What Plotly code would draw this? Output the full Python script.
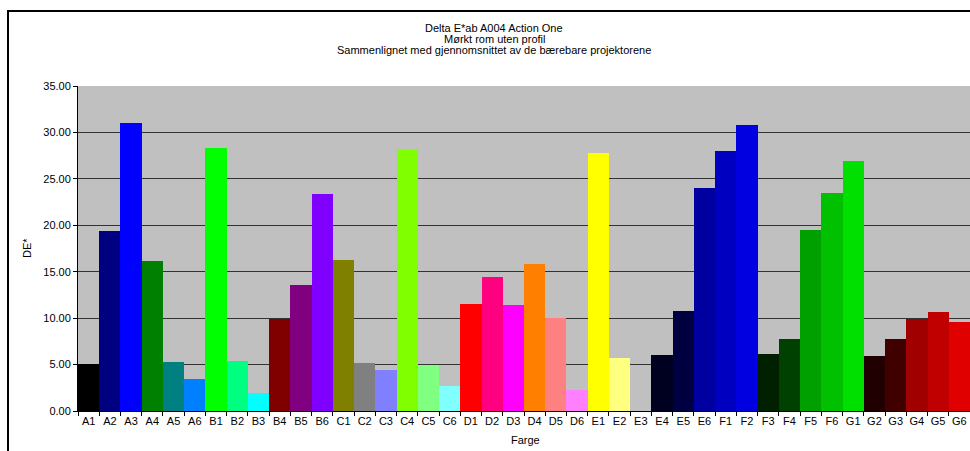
import plotly.graph_objects as go

# Colour patches on the test chart
categories = [f"{g}{i}" for g in "ABCDEFG" for i in range(1, 7)]

# Delta E*ab per patch
delta_e = [
    5.03, 19.37, 31.05, 16.14, 5.25, 3.42,      # A1-A6
    28.30, 5.36, 1.90, 9.95, 13.55, 23.36,      # B1-B6
    16.24, 5.14, 4.39, 28.18, 4.93, 2.66,       # C1-C6
    11.50, 14.41, 11.39, 15.81, 10.00, 2.27,    # D1-D6
    27.78, 5.68, 0.00, 6.00, 10.77, 24.00,      # E1-E6
    28.00, 30.80, 6.11, 7.73, 19.48, 23.45,     # F1-F6
    26.90, 5.90, 7.73, 9.92, 10.64, 9.56,       # G1-G6
]

# Fill colour of each bar (the patch's nominal colour)
bar_colors = [
    "#000000", "#000080", "#0000FF", "#008000", "#008080", "#0080FF",
    "#00FF00", "#00FF80", "#00FFFF", "#800000", "#800080", "#8000FF",
    "#808000", "#808080", "#8080FF", "#80FF00", "#80FF80", "#80FFFF",
    "#FF0000", "#FF0080", "#FF00FF", "#FF8000", "#FF8080", "#FF80FF",
    "#FFFF00", "#FFFF80", "#FFFFFF", "#000020", "#000040", "#0000A0",
    "#0000C0", "#0000E0", "#002000", "#004000", "#00A000", "#00C000",
    "#00E000", "#200000", "#400000", "#A00000", "#C00000", "#E00000",
]

y_ticks = [0, 5, 10, 15, 20, 25, 30, 35]

title_lines = [
    "Delta E*ab A004 Action One",
    "Mørkt rom uten profil",
    "Sammenlignet med gjennomsnittet av de bærebare projektorene",
]

W, H = 970, 451
ML, MR, MT, MB = 78, 0, 86, 40
FONT = "Liberation Sans, Arial, sans-serif"
FS = 11

fig = go.Figure(
    go.Bar(
        x=categories,
        y=delta_e,
        marker=dict(color=bar_colors, line=dict(width=0)),
        hovertemplate="%{x}: %{y:.2f}<extra></extra>",
    )
)

pw = W - ML - MR
ph = H - MT - MB


def px_x(p):
    return (p - ML) / pw


def px_y(p):
    return (H - MB - p) / ph


def label(text, x, y, angle=0):
    return dict(
        text=text, textangle=angle,
        x=px_x(x), y=px_y(y), xref="paper", yref="paper",
        xanchor="center", yanchor="middle", showarrow=False,
        font=dict(family=FONT, size=FS, color="black"),
    )


annotations = [label(t, 494, 27.5 + 11 * i) for i, t in enumerate(title_lines)]
annotations.append(label("DE*", 27, 248, angle=-90))
annotations.append(label("Farge", 525, 440))

fig.update_layout(
    width=W,
    height=H,
    margin=dict(l=ML, r=MR, t=MT, b=MB),
    paper_bgcolor="white",
    plot_bgcolor="#C0C0C0",
    bargap=0,
    showlegend=False,
    font=dict(family=FONT, size=FS, color="black"),
    xaxis=dict(
        type="category",
        showgrid=False,
        showline=True,
        linecolor="black",
        linewidth=1,
        ticks="outside",
        tickson="boundaries",
        ticklen=4,
        tickcolor="black",
        tickangle=0,
        tickfont=dict(family=FONT, size=FS, color="black"),
        fixedrange=True,
    ),
    yaxis=dict(
        range=[0, 35],
        tickvals=y_ticks,
        tickformat=".2f",
        showgrid=True,
        gridcolor="#333333",
        gridwidth=1,
        zeroline=False,
        showline=True,
        linecolor="black",
        linewidth=1,
        ticks="outside",
        ticklen=4,
        tickcolor="black",
        tickfont=dict(family=FONT, size=FS, color="black"),
        fixedrange=True,
    ),
    annotations=annotations,
    shapes=[
        # outer chart frame
        dict(
            type="rect", xref="paper", yref="paper",
            x0=px_x(8), x1=px_x(W + 20), y0=px_y(H + 20), y1=px_y(11),
            line=dict(color="black", width=2), fillcolor="rgba(0,0,0,0)",
            layer="above",
        ),
    ],
)

fig.write_html("out.html")
